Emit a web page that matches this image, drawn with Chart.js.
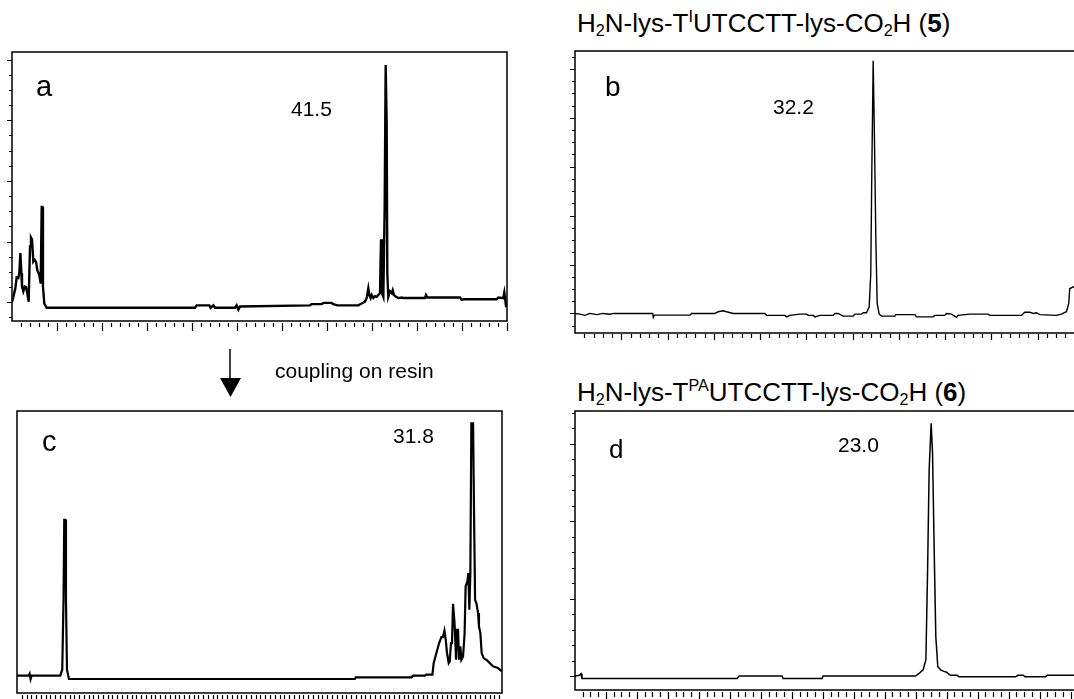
<!DOCTYPE html>
<html>
<head>
<meta charset="utf-8">
<script src="https://cdn.jsdelivr.net/npm/chart.js@4.4.0/dist/chart.umd.min.js"></script>
<style>
html, body { margin:0; padding:0; background:#fff; width:1074px; height:699px; overflow:hidden; position:relative; }
body { font-family: "Liberation Sans", Arial, Helvetica, sans-serif; color:#000; }
canvas { position:absolute; }
.txt { position:absolute; line-height:1; white-space:nowrap; }
.ttl { font-size:26px; }
.num { font-size:21px; }
sub, sup { font-size:0.62em; line-height:0; }
sub { vertical-align:-0.22em; }
sup { vertical-align:0.6em; }
</style>
</head>
<body>
<div class="txt ttl" style="left:577px; top:10px;">H<sub>2</sub>N-lys-T<sup>I</sup>UTCCTT-lys-CO<sub>2</sub>H (<b>5</b>)</div>
<div class="txt ttl" style="left:577px; top:379px;">H<sub>2</sub>N-lys-T<sup>PA</sup>UTCCTT-lys-CO<sub>2</sub>H (<b>6</b>)</div>

<canvas id="chartA" width="540" height="300" style="left:0px; top:40px;"></canvas>
<canvas id="chartB" width="540" height="310" style="left:560px; top:40px;"></canvas>
<canvas id="chartC" width="540" height="299" style="left:0px; top:400px;"></canvas>
<canvas id="chartD" width="540" height="299" style="left:560px; top:400px;"></canvas>

<div class="txt" style="left:36px; top:72px; font-size:29px;">a</div>
<div class="txt" style="left:605px; top:73px; font-size:28px;">b</div>
<div class="txt" style="left:42px; top:427px; font-size:29px;">c</div>
<div class="txt" style="left:609px; top:436px; font-size:26px;">d</div>

<div class="txt num" style="left:291px; top:98px;">41.5</div>
<div class="txt num" style="left:773px; top:96px;">32.2</div>
<div class="txt num" style="left:393px; top:425px;">31.8</div>
<div class="txt num" style="left:838px; top:434px;">23.0</div>

<svg style="position:absolute; left:215px; top:345px;" width="30" height="60">
  <line x1="15" y1="4" x2="15" y2="36" stroke="#000" stroke-width="1.5"/>
  <polygon points="5,33 26,33 15.5,52" fill="#000"/>
</svg>
<div class="txt" style="left:275px; top:360px; font-size:21px;">coupling on resin</div>

<script>
// retention time (min) / absorbance (mAU)

// a: crude, before coupling
const timeA = [0,0.15,0.37,0.52,0.70,0.81,0.93,1.04,1.11,1.26,1.41,1.56,1.70,1.85,2.00,2.11,2.22,2.37,2.52,2.67,
  2.81,3.04,3.19,3.30,3.37,3.44,3.59,3.85,20.33,20.52,21.93,22.07,22.37,22.56,24.78,24.96,25.15,25.33,33.11,33.30,
  34.41,34.59,35.52,35.70,36.15,38.48,38.85,39.22,39.41,39.59,39.70,39.85,39.96,40.15,40.33,40.52,40.70,40.89,41.00,41.11,
  41.26,41.41,41.52,41.63,41.70,41.81,42.00,42.19,42.30,42.44,42.67,42.93,43.30,43.48,45.89,46.00,46.15,49.78,49.96,50.15,
  53.85,54.04,54.59,54.70,54.89,55.00];
const signalA = [0,9,23,41,40,48,81,48,26,18,26,25,15,1,92,107,104,67,70,67,
  53,45,31,157,157,26,-2,-9,-9,-5,-5,-9,-5,-9,-9,-5,-12,-7,-5,-3,
  -3,-1,-1,-3,-5,-5,-2,1,7,23,12,7,12,7,10,9,12,15,104,15,
  9,158,391,295,48,9,18,15,20,12,9,7,8,7,7,12,8,8,4,5,
  5,8,7,16,-6,-6];

// b: compound 5
const timeB = [0,0.54,1.08,1.62,2.34,3.06,3.78,4.14,8.39,8.46,8.57,12.42,12.60,15.12,15.48,16.02,16.38,17.10,20.52,20.70,
  22.68,22.86,23.22,24.30,25.02,25.20,25.74,25.92,26.46,27.90,28.08,28.44,28.98,30.06,30.24,30.96,31.14,31.50,31.79,31.96,
  32.07,32.22,32.36,32.51,32.65,32.87,33.12,34.56,34.67,36.72,36.90,38.70,38.88,39.96,40.14,40.68,41.22,41.40,42.66,44.64,
  44.82,48.24,48.60,49.14,49.50,49.86,50.22,52.02,52.56,53.10,53.35,53.46,53.89,55.00];
const signalB = [0,-3,-8,0,-5,0,-3,0,0,-16,-7,-7,0,0,7,11,7,0,0,-8,
  -8,-14,-8,-3,-3,-8,-8,-14,-8,-8,0,0,-11,-11,-3,-3,3,3,27,164,
  572,1033,709,300,41,-3,-11,-11,-5,-5,-14,-14,-8,-8,0,-3,-16,-8,-3,-3,
  -8,-8,5,5,0,3,-5,-8,-3,7,41,102,109,112];

// c: after coupling on resin
const timeC = [0,0.81,0.88,0.95,1.02,3.02,3.16,3.25,3.30,3.37,3.42,3.49,3.63,23.59,23.66,27.55,27.66,28.48,28.59,29.01,
  29.10,29.29,29.48,29.64,29.75,29.85,29.94,30.03,30.15,30.22,30.31,30.38,30.45,30.54,30.59,30.66,30.73,30.80,30.87,30.96,
  31.03,31.15,31.26,31.33,31.45,31.52,31.59,31.66,31.73,31.85,31.92,31.99,32.08,32.20,32.26,32.36,32.45,32.59,32.83,33.01,
  33.24,33.59,33.87];
const signalC = [5,5,8,0,5,5,14,119,239,239,119,14,0,0,2.5,2.5,5,5,6.5,6.5,
  24,39,54,63,63,72.5,59,39,24,26.5,54,54,113,89,69,29,74,74,29,49,
  29,34,69,139,146.5,159,104,159,384,384,244,119,114,99,79,69,39,31.5,28,24,
  19,16.5,11.5];

// d: compound 6
const timeD = [0,0.30,0.39,0.45,10.47,10.60,13.37,13.44,15.96,16.02,21.99,22.20,22.48,22.66,22.77,22.87,23.00,23.09,23.20,23.30,
  23.43,23.61,23.82,24.00,24.10,24.25,24.68,24.79,28.45,28.60,28.95,29.05,30.39,30.50,33.00];
const signalD = [0,1,3,-3,-3,0,0,-3,-3,0,0,3,8,21,137,266,326,287,158,51,
  12,8,6,5,3,1,1,-1,-1,1,1,-1,-1,1,1];

// frame + tick marks, positioned through the chart's scales
const framePlugin = {
  id: 'frame',
  afterDraw(chart, args, o) {
    const ctx = chart.ctx, a = chart.chartArea, x = chart.scales.x, y = chart.scales.y;
    ctx.save();
    ctx.strokeStyle = '#000';
    ctx.lineWidth = 1.5;
    ctx.beginPath();
    if (o.closed) {
      ctx.rect(a.left, a.top, a.right - a.left, a.bottom - a.top);
    } else {
      ctx.moveTo(chart.width + 5, a.top);
      ctx.lineTo(a.left, a.top);
      ctx.lineTo(a.left, a.bottom);
      ctx.lineTo(chart.width + 5, a.bottom);
    }
    ctx.stroke();

    ctx.lineWidth = 1.2;
    ctx.beginPath();
    for (let i = 1; i * o.xStep <= x.max + 1e-6; i++) {
      const px = Math.round(x.getPixelForValue(i * o.xStep)) + 0.5;
      const len = (o.xMajor && i % o.xMajor === 0) ? o.xMajorLen : o.xMinorLen;
      ctx.moveTo(px, a.bottom + o.xGap);
      ctx.lineTo(px, a.bottom + o.xGap + len);
    }
    if (o.yStep) {
      for (let i = Math.ceil(y.min / o.yStep); i * o.yStep <= y.max; i++) {
        const py = Math.round(y.getPixelForValue(i * o.yStep)) + 0.5;
        const len = (i % o.yMajor === 0) ? 5 : 3;
        ctx.moveTo(a.left - len, py);
        ctx.lineTo(a.left, py);
      }
    }
    ctx.stroke();
    ctx.restore();
  }
};

function makePanel(id, times, signal, lw, pad, xmax, ymin, ymax, frame) {
  const ctx = document.getElementById(id).getContext('2d');
  return new Chart(ctx, {
    type: 'line',
    data: {
      datasets: [{
        data: times.map((t, i) => ({x: t, y: signal[i]})),
        borderColor: '#000',
        borderWidth: lw,
        pointRadius: 0,
        tension: 0,
        fill: false
      }]
    },
    options: {
      responsive: false,
      animation: false,
      events: [],
      layout: { padding: pad },
      plugins: { legend: {display: false}, tooltip: {enabled: false}, frame: frame },
      scales: {
        x: { type: 'linear', display: false, min: 0, max: xmax },
        y: { display: false, min: ymin, max: ymax }
      }
    },
    plugins: [framePlugin]
  });
}

makePanel('chartA', timeA, signalA, 2.4, {left:12, top:12, right:33, bottom:19}, 55, -30.8, 412.6,
  {closed: true, xStep: 1, xMajor: 5, xGap: 2, xMinorLen: 4, xMajorLen: 8, yStep: 25, yMajor: 4});
makePanel('chartB', timeB, signalB, 1.4, {left:15, top:11, right:16, bottom:17}, 55, -80, 1073,
  {closed: false, xStep: 1, xMajor: 5, xGap: 1, xMinorLen: 4, xMajorLen: 6, yStep: 50, yMajor: 4});
makePanel('chartC', timeC, signalC, 2.2, {left:17, top:11, right:38, bottom:6}, 33.87, -21, 402.5,
  {closed: true, xStep: 1/3, xMajor: 0, xGap: 2, xMinorLen: 5, xMajorLen: 5, yStep: 0});
makePanel('chartD', timeD, signalD, 1.5, {left:15, top:11, right:14, bottom:9}, 33, -18, 342,
  {closed: false, xStep: 0.5, xMajor: 4, xGap: 2, xMinorLen: 5, xMajorLen: 7, yStep: 20, yMajor: 5});
</script>
</body>
</html>
